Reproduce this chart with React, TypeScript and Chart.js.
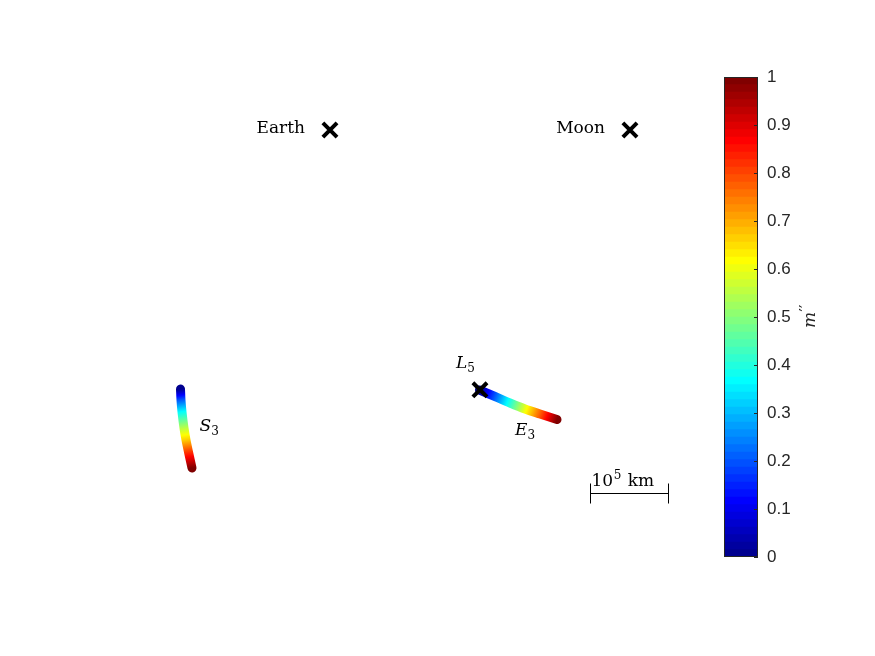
import React, { useEffect, useRef } from 'react';
import { Chart, registerables } from 'chart.js';

Chart.register(...registerables);

// ---- Data (normalised Earth–Moon rotating frame, distance Earth–Moon = 1) ----
const EARTH_MOON_KM = 384400;
const SCALE_BAR_KM = 1e5;

const primaryNames = ['Earth', 'Moon', 'L5'];
const primaryX = [-0.01215, 0.98785, 0.48785];
const primaryY = [0, 0, -0.86603];

// S3 family (colour = m'')
const s3X = [-0.5103, -0.5087, -0.5053, -0.4987, -0.492, -0.4837, -0.472];
const s3Y = [-0.8633, -0.9, -0.94, -0.9933, -1.0333, -1.0733, -1.1267];
const s3M = [0, 0.2, 0.37, 0.55, 0.67, 0.82, 1];

// E3 family (colour = m'')
const e3X = [0.4863, 0.538, 0.588, 0.638, 0.688, 0.7447];
const e3Y = [-0.8667, -0.8883, -0.91, -0.93, -0.9467, -0.965];
const e3M = [0, 0.2, 0.4, 0.6, 0.78, 1];

// scale bar anchor (left end) in data units
const scaleBarX = [0.8547];
const scaleBarY = [-1.21];

// colour bar
const cbLevels = 64;
const cbTicks = [0, 0.1, 0.2, 0.3, 0.4, 0.5, 0.6, 0.7, 0.8, 0.9, 1];

// ---- MATLAB jet colormap ----
function matlabJet(m: number): number[][] {
  const n = Math.ceil(m / 4);
  const u: number[] = [];
  for (let i = 1; i <= n; i++) u.push(i / n);
  for (let i = 1; i <= n - 1; i++) u.push(1);
  for (let i = n; i >= 1; i--) u.push(i / n);
  const g0 = Math.ceil(n / 2) - (m % 4 === 1 ? 1 : 0);
  const J = Array.from({ length: m }, () => [0, 0, 0]);
  for (let i = 0; i < u.length; i++) {
    const g = g0 + i + 1;
    const r = g + n;
    const b = g - n;
    if (r >= 1 && r <= m) J[r - 1][0] = u[i];
    if (g >= 1 && g <= m) J[g - 1][1] = u[i];
    if (b >= 1 && b <= m) J[b - 1][2] = u[i];
  }
  return J;
}
const JET = matlabJet(cbLevels);
const rgb = (c: number[]) =>
  `rgb(${Math.round(c[0] * 255)},${Math.round(c[1] * 255)},${Math.round(c[2] * 255)})`;
function jetColor(v: number): string {
  const t = Math.min(1, Math.max(0, v)) * (cbLevels - 1);
  const lo = Math.floor(t);
  const hi = Math.min(cbLevels - 1, lo + 1);
  const f = t - lo;
  const c = [0, 1, 2].map((k) => JET[lo][k] * (1 - f) + JET[hi][k] * f);
  return rgb(c);
}

function curveGradient(chart: any, xs: number[], ys: number[], ms: number[]) {
  const sx = chart.scales.x;
  const sy = chart.scales.y;
  const P = xs.map((x, i) => [sx.getPixelForValue(x), sy.getPixelForValue(ys[i])]);
  const [x0, y0] = P[0];
  const [x1, y1] = P[P.length - 1];
  const dx = x1 - x0;
  const dy = y1 - y0;
  const L2 = dx * dx + dy * dy || 1;
  const ts = P.map(([x, y]) => Math.min(1, Math.max(0, ((x - x0) * dx + (y - y0) * dy) / L2)));
  const g = chart.ctx.createLinearGradient(x0, y0, x1, y1);
  for (let k = 0; k <= 120; k++) {
    const t = k / 120;
    let m = ms[ms.length - 1];
    for (let i = 0; i < ts.length - 1; i++) {
      if (t >= ts[i] && t <= ts[i + 1]) {
        const f = ts[i + 1] > ts[i] ? (t - ts[i]) / (ts[i + 1] - ts[i]) : 0;
        m = ms[i] + f * (ms[i + 1] - ms[i]);
        break;
      }
    }
    g.addColorStop(t, jetColor(m));
  }
  return g;
}

const SERIF = '"DejaVu Serif", serif';

function drawSub(ctx: CanvasRenderingContext2D, main: string, sub: string, x: number, y: number) {
  ctx.textAlign = 'left';
  ctx.textBaseline = 'alphabetic';
  ctx.font = `italic 17px ${SERIF}`;
  ctx.fillText(main, x, y);
  const w = ctx.measureText(main).width;
  ctx.font = `12px ${SERIF}`;
  ctx.fillText(sub, x + w, y + 4);
}

const annotatePlugin = {
  id: 'annotate',
  afterDatasetsDraw(chart: any) {
    const ctx: CanvasRenderingContext2D = chart.ctx;
    const px = (v: number) => chart.scales.x.getPixelForValue(v);
    const py = (v: number) => chart.scales.y.getPixelForValue(v);
    ctx.save();
    ctx.fillStyle = '#000';
    ctx.strokeStyle = '#000';
    // Earth / Moon labels
    ctx.font = `17px ${SERIF}`;
    ctx.textAlign = 'right';
    ctx.textBaseline = 'alphabetic';
    for (let i = 0; i < 2; i++) {
      ctx.fillText(primaryNames[i], px(primaryX[i]) - 25, py(primaryY[i]) + 3);
    }
    // L5
    drawSub(ctx, 'L', '5', px(primaryX[2]) - 24, py(primaryY[2]) - 22);
    // S3
    drawSub(ctx, 'S', '3', px(s3X[0]) + 19, py(s3Y[0]) + 42);
    // E3
    const le = e3X.length - 1;
    drawSub(ctx, 'E', '3', px(e3X[le]) - 42, py(e3Y[le]) + 15);

    // scale bar
    const x0 = Math.round(px(scaleBarX[0])) + 0.5;
    const x1 = Math.round(px(scaleBarX[0] + SCALE_BAR_KM / EARTH_MOON_KM)) + 0.5;
    const yb = Math.round(py(scaleBarY[0])) + 0.5;
    ctx.lineWidth = 1;
    ctx.beginPath();
    ctx.moveTo(x0, yb);
    ctx.lineTo(x1, yb);
    ctx.moveTo(x0, yb - 10);
    ctx.lineTo(x0, yb + 10);
    ctx.moveTo(x1, yb - 10);
    ctx.lineTo(x1, yb + 10);
    ctx.stroke();
    ctx.textAlign = 'left';
    ctx.font = `17px ${SERIF}`;
    const tx = x0 + 1;
    const ty = yb - 8;
    ctx.fillText('10', tx, ty);
    const w10 = ctx.measureText('10').width;
    ctx.font = `12px ${SERIF}`;
    ctx.fillText('5', tx + w10 + 0.5, ty - 7);
    const w5 = ctx.measureText('5').width;
    ctx.font = `17px ${SERIF}`;
    ctx.fillText('km', tx + w10 + w5 + 7, ty);
    ctx.restore();
  },
};

const cbPlugin = {
  id: 'cbdecor',
  afterDraw(chart: any) {
    const ctx: CanvasRenderingContext2D = chart.ctx;
    const a = chart.chartArea;
    const ys = chart.scales.y;
    ctx.save();
    ctx.strokeStyle = '#262626';
    ctx.lineWidth = 1;
    ctx.strokeRect(
      Math.round(a.left) + 0.5,
      Math.round(a.top) + 0.5,
      Math.round(a.right - a.left) - 1,
      Math.round(a.bottom - a.top) - 1
    );
    ctx.beginPath();
    for (const t of cbTicks) {
      const y = Math.round(ys.getPixelForValue(t)) + 0.5;
      ctx.moveTo(a.right - 4, y);
      ctx.lineTo(a.right, y);
    }
    ctx.stroke();
    // title m''
    ctx.fillStyle = '#262626';
    ctx.translate(a.right + 57, (a.top + a.bottom) / 2);
    ctx.rotate(-Math.PI / 2);
    ctx.textBaseline = 'alphabetic';
    ctx.textAlign = 'left';
    ctx.font = `italic 17px ${SERIF}`;
    ctx.fillText('m', -11, 0);
    const wm = ctx.measureText('m').width;
    ctx.font = `15px "DejaVu Sans", sans-serif`;
    ctx.fillText('\u2032\u2032', -11 + wm + 0.5, -4);
    ctx.restore();
  },
};

export default function App() {
  const mainRef = useRef<HTMLCanvasElement>(null);
  const cbRef = useRef<HTMLCanvasElement>(null);

  useEffect(() => {
    const main = new Chart(mainRef.current!, {
      type: 'scatter',
      data: {
        datasets: [
          {
            label: 'primaries',
            data: primaryX.map((x, i) => ({ x, y: primaryY[i] })),
            showLine: false,
            pointStyle: 'crossRot',
            pointRadius: 10,
            pointBorderWidth: 4,
            pointBorderColor: '#000',
            pointBackgroundColor: '#000',
          },
          {
            label: 'S3',
            data: s3X.map((x, i) => ({ x, y: s3Y[i] })),
            showLine: true,
            pointRadius: 0,
            borderWidth: 9,
            tension: 0.3,
            borderCapStyle: 'round',
            borderJoinStyle: 'round',
            borderColor: (c: any) =>
              c.chart.chartArea ? curveGradient(c.chart, s3X, s3Y, s3M) : jetColor(0),
          },
          {
            label: 'E3',
            data: e3X.map((x, i) => ({ x, y: e3Y[i] })),
            showLine: true,
            pointRadius: 0,
            borderWidth: 9,
            tension: 0.3,
            borderCapStyle: 'round',
            borderJoinStyle: 'round',
            borderColor: (c: any) =>
              c.chart.chartArea ? curveGradient(c.chart, e3X, e3Y, e3M) : jetColor(0),
          },
        ] as any,
      },
      options: {
        responsive: false,
        animation: false,
        layout: { padding: 0, autoPadding: false },
        plugins: { legend: { display: false }, tooltip: { enabled: false } },
        scales: {
          x: { type: 'linear', display: false, min: -1.112, max: 1.80467 },
          y: { type: 'linear', display: false, min: -1.75333, max: 0.43333 },
        },
      },
      plugins: [annotatePlugin],
    });

    const cb = new Chart(cbRef.current!, {
      type: 'bar',
      data: {
        labels: [''],
        datasets: JET.map((c, i) => ({
          label: `L${i}`,
          data: [(i + 1) / cbLevels],
          backgroundColor: rgb(c),
          borderWidth: 0,
          grouped: false,
          barPercentage: 1,
          categoryPercentage: 1,
        })) as any,
      },
      options: {
        responsive: false,
        animation: false,
        layout: { padding: { top: 15, bottom: 13, left: 0, right: 0 }, autoPadding: false },
        plugins: { legend: { display: false }, tooltip: { enabled: false } },
        scales: {
          x: { display: false },
          y: {
            position: 'right',
            min: 0,
            max: 1,
            grid: { display: false, drawTicks: false },
            border: { display: false },
            afterFit: (s: any) => {
              s.width = 96;
              s.paddingTop = 0;
              s.paddingBottom = 0;
            },
            ticks: {
              stepSize: 0.1,
              padding: 9,
              color: '#262626',
              font: { family: '"Liberation Sans", Arial, sans-serif', size: 17 },
              callback: (v: any) => String(Math.round(Number(v) * 10) / 10),
            },
          },
        },
      },
      plugins: [cbPlugin],
    });

    return () => {
      main.destroy();
      cb.destroy();
    };
  }, []);

  return (
    <div style={{ position: 'absolute', left: 0, top: 0, width: 875, height: 656, background: '#fff' }}>
      <canvas ref={mainRef} width={875} height={656} style={{ position: 'absolute', left: 0, top: 0 }} />
      <canvas ref={cbRef} width={130} height={508} style={{ position: 'absolute', left: 724, top: 62 }} />
    </div>
  );
}
